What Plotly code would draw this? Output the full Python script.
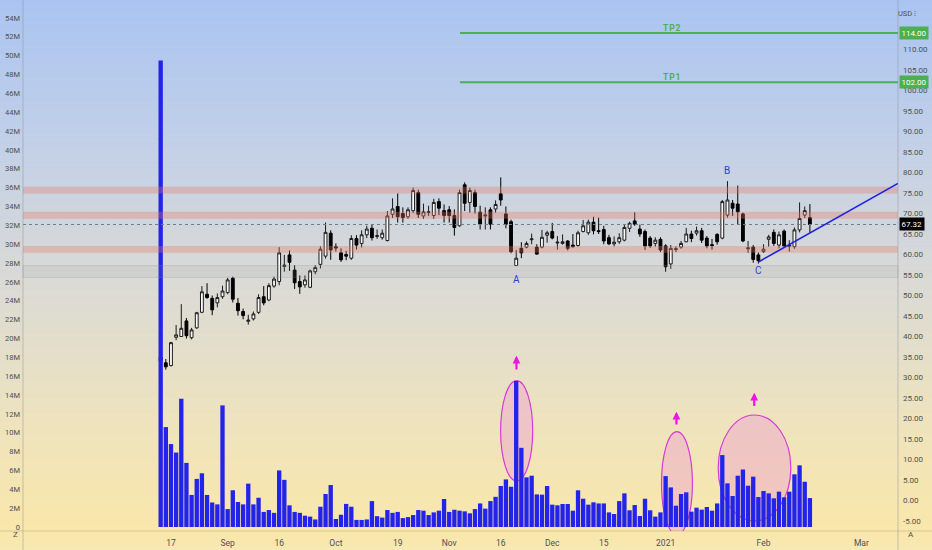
import zlib, struct, base64, datetime as dt
import plotly.graph_objects as go

# ---------------- data ----------------
TRADING_DAYS = {
    "2020-08": [13, 14, 17, 18, 19, 20, 21, 24, 25, 26, 27, 28, 31],
    "2020-09": [1, 2, 3, 4, 8, 9, 10, 11, 14, 15, 16, 17, 18, 21, 22, 23, 24, 25, 28, 29, 30],
    "2020-10": [1, 2, 5, 6, 7, 8, 9, 12, 13, 14, 15, 16, 19, 20, 21, 22, 23, 26, 27, 28, 29, 30],
    "2020-11": [2, 3, 4, 5, 6, 9, 10, 11, 12, 13, 16, 17, 18, 19, 20, 23, 24, 25, 27, 30],
    "2020-12": [1, 2, 3, 4, 7, 8, 9, 10, 11, 14, 15, 16, 17, 18, 21, 22, 23, 24, 28, 29, 30, 31],
    "2021-01": [4, 5, 6, 7, 8, 11, 12, 13, 14, 15, 19, 20, 21, 22, 25, 26, 27, 28, 29],
    "2021-02": [1, 2, 3, 4, 5, 8, 9, 10, 11, 12],
}
HOLIDAYS = ["2020-09-07", "2020-11-26", "2020-12-25", "2021-01-01", "2021-01-18", "2021-02-15"]

OPEN = [35.0, 33.6, 32.9, 39.8, 40.0, 43.8, 39.7, 42.1, 45.9, 50.3, 49.3, 48.2, 49.7, 50.7, 54.2, 48.1, 46.1, 43.7, 44.3, 45.9,
        49.7, 48.9, 52.3, 53.4, 57.1, 59.9, 56.2, 53.4, 52.6, 52.0, 55.8, 57.6, 59.6, 65.2, 61.9, 60.4, 60.0, 59.1, 63.9, 62.7,
        64.8, 66.4, 64.4, 64.1, 63.4, 69.8, 71.7, 70.0, 69.2, 70.7, 75.1, 69.4, 70.2, 69.5, 72.9, 70.7, 70.9, 69.5, 67.0, 77.0,
        72.7, 75.1, 70.3, 69.4, 70.9, 71.1, 74.8, 69.9, 68.0, 57.3, 61.5, 61.8, 63.6, 61.8, 61.8, 64.7, 65.6, 62.8, 62.7, 63.3,
        62.3, 62.2, 65.6, 65.3, 67.9, 65.8, 66.1, 64.1, 62.6, 63.1, 63.5, 66.4, 68.2, 66.2, 65.6, 64.0, 62.7, 63.7, 62.1, 57.7,
        61.2, 61.8, 63.1, 65.0, 65.2, 65.8, 64.0, 62.4, 64.9, 64.0, 69.6, 72.5, 72.3, 69.9, 61.4, 61.8, 59.9, 60.7, 63.7, 65.4,
        62.3, 65.7, 62.0, 61.9, 66.0, 69.6, 69.0]
HIGH = [37.0, 34.5, 38.7, 42.8, 47.9, 44.5, 42.1, 46.0, 52.3, 53.0, 50.0, 50.5, 52.4, 54.3, 54.6, 49.4, 46.8, 45.3, 46.1, 50.3,
        52.3, 53.0, 54.6, 61.8, 59.9, 61.0, 57.4, 54.9, 54.9, 56.3, 57.4, 62.0, 67.8, 65.9, 62.7, 61.5, 60.9, 64.7, 64.7, 65.9,
        67.0, 67.3, 66.1, 66.1, 70.6, 73.7, 74.9, 71.5, 71.5, 76.3, 75.8, 72.4, 71.9, 73.6, 73.7, 72.2, 71.8, 71.0, 75.8, 77.6,
        76.3, 75.8, 71.9, 71.5, 71.5, 73.2, 78.8, 71.7, 68.5, 61.1, 63.0, 63.2, 65.1, 62.5, 66.0, 65.8, 67.7, 64.5, 64.9, 63.5,
        65.0, 65.8, 68.4, 68.5, 69.2, 69.0, 67.0, 64.8, 64.4, 65.2, 67.3, 68.0, 70.3, 67.3, 66.1, 64.5, 64.2, 64.2, 62.5, 62.3,
        62.0, 63.3, 66.5, 65.8, 66.8, 66.5, 64.5, 63.8, 65.2, 73.3, 77.9, 73.3, 76.8, 70.2, 63.3, 62.3, 60.5, 62.5, 64.8, 66.1,
        65.6, 66.1, 63.5, 66.6, 72.7, 71.7, 72.3]
LOW = [33.0, 31.9, 32.7, 39.1, 39.9, 39.5, 39.3, 41.9, 45.7, 49.2, 45.2, 47.1, 49.2, 50.3, 48.3, 45.1, 44.2, 42.9, 43.9, 45.5,
       47.6, 48.6, 51.9, 52.5, 55.8, 56.0, 51.6, 50.4, 51.9, 51.8, 55.2, 56.6, 59.0, 58.7, 60.7, 58.2, 58.6, 58.7, 61.2, 61.7,
       64.0, 63.4, 63.8, 63.6, 63.2, 68.9, 67.8, 67.8, 68.7, 70.1, 68.9, 68.7, 69.4, 68.7, 69.6, 67.8, 67.8, 64.6, 66.8, 70.6,
       70.2, 70.0, 66.1, 66.1, 66.1, 70.2, 71.9, 66.4, 60.3, 57.3, 59.1, 61.5, 62.5, 60.0, 61.5, 62.9, 63.7, 61.2, 62.4, 61.0,
       61.7, 61.9, 65.4, 64.8, 64.9, 65.0, 62.5, 62.3, 62.0, 62.6, 63.2, 65.5, 67.0, 64.3, 61.1, 61.6, 61.9, 60.6, 55.8, 56.5,
       60.6, 61.4, 63.0, 63.0, 64.6, 62.8, 61.5, 61.2, 62.4, 63.7, 69.0, 69.4, 67.4, 63.0, 60.4, 58.0, 57.8, 60.4, 61.9, 62.1,
       61.5, 61.6, 60.7, 61.4, 65.4, 68.9, 65.3]
CLOSE = [34.0, 32.6, 38.5, 40.4, 42.0, 40.2, 41.6, 45.8, 50.9, 49.5, 46.5, 49.5, 51.1, 53.8, 49.1, 46.3, 45.1, 44.0, 45.5, 49.5,
         48.2, 52.4, 54.0, 60.4, 57.4, 58.1, 53.1, 52.1, 53.8, 56.0, 56.8, 61.3, 65.4, 61.1, 61.6, 58.7, 59.6, 63.9, 62.3, 64.8,
         66.2, 64.1, 64.6, 65.2, 69.4, 71.1, 69.2, 69.0, 70.9, 75.6, 69.8, 70.4, 70.4, 72.7, 71.3, 69.5, 69.5, 66.6, 75.1, 72.5,
         75.6, 71.7, 67.4, 69.6, 67.4, 72.2, 73.3, 67.4, 60.7, 59.1, 60.4, 62.7, 63.8, 60.1, 64.2, 65.3, 64.0, 63.0, 63.1, 61.5,
         61.9, 65.3, 67.0, 67.9, 65.8, 65.6, 63.3, 62.6, 63.0, 64.1, 66.6, 67.6, 67.4, 65.0, 62.1, 62.1, 63.5, 61.1, 57.0, 61.5,
         61.4, 62.7, 65.0, 63.9, 65.8, 63.5, 62.1, 62.2, 63.1, 72.9, 73.3, 71.3, 70.4, 63.3, 61.6, 58.8, 58.5, 61.3, 64.3, 62.7,
         64.8, 62.1, 62.2, 66.0, 68.8, 70.7, 67.32]
VOLUME_M = [49.5, 10.6, 8.8, 7.9, 13.6, 6.8, 3.4, 5.1, 5.7, 3.4, 2.6, 2.4, 12.9, 1.9, 3.9, 2.65, 2.4, 4.6, 2.4, 3.1,
            1.6, 1.8, 1.5, 6.0, 5.0, 2.3, 1.6, 1.5, 1.2, 1.1, 0.8, 2.15, 3.5, 4.45, 0.85, 1.3, 2.45, 2.15, 0.75, 0.75,
            0.8, 2.75, 1.15, 1.0, 1.8, 1.5, 1.6, 0.95, 1.05, 1.27, 1.8, 1.73, 1.27, 1.55, 1.73, 2.97, 1.6, 1.83, 1.73, 1.66,
            1.45, 1.9, 2.5, 1.95, 2.75, 3.2, 4.35, 5.05, 4.27, 15.5, 8.4, 5.27, 5.44, 3.46, 3.43, 4.35, 2.37, 2.3, 2.44, 2.44,
            1.73, 3.89, 3.0, 2.37, 2.62, 2.5, 2.5, 1.55, 1.38, 2.75, 3.57, 1.77, 2.33, 1.17, 3.0, 1.77, 1.1, 1.55, 5.4, 4.2,
            2.26, 3.5, 3.68, 1.63, 2.05, 1.84, 2.12, 1.73, 2.5, 7.63, 4.63, 3.29, 5.44, 6.1, 4.38, 5.34, 3.18, 3.82, 3.57, 3.04,
            3.75, 3.15, 3.75, 5.59, 6.54, 4.8, 3.07]

TICK_DATES = ["2020-08-17", "2020-09-01", "2020-09-16", "2020-10-01", "2020-10-19", "2020-11-02",
              "2020-11-16", "2020-12-01", "2020-12-15", "2021-01-04", "2021-02-01", "2021-03-01"]
TICK_LABELS = ["17", "Sep", "16", "Oct", "19", "Nov", "16", "Dec", "15", "2021", "Feb", "Mar"]
VOL_TICKS = list(range(0, 55, 2))
VOL_TICK_LABELS = ["0"] + [f"{v}M" for v in VOL_TICKS[1:]]
PRICE_TICKS = list(range(-5, 116, 5))
PRICE_TICK_LABELS = [f"{v:.2f}" for v in PRICE_TICKS]
ZONES = [(74.9, 76.5), (68.7, 70.4), (60.4, 62.1)]
NEUTRAL_ZONE = (54.4, 57.3)
TP_LEVELS = [("TP2", 114.0), ("TP1", 102.0)]
LAST_PRICE = 67.32

# ---------------- helpers / layout constants ----------------
DATES = [dt.datetime.strptime(f"{m}-{d:02d}", "%Y-%m-%d") + dt.timedelta(hours=12)
         for m, days in TRADING_DAYS.items() for d in days]
X = [d.strftime("%Y-%m-%d %H:%M") for d in DATES]

def idx_x(f):
    i = int(f)
    return (DATES[i] + dt.timedelta(days=f - i)).strftime("%Y-%m-%d %H:%M:%S")

W, H = 932, 550
ML, MR, MT, MB = 23, 34, 0, 19
PW, PH = W - ML - MR, H - MT - MB
P0, PPU = 500.5, 4.1          # price axis: pixel of 0, px per unit
V0, VPU = 527.0, 9.426        # volume axis
def px2price(py): return (P0 - py) / PPU
def pxx(px): return (px - ML) / PW
def pxy(py): return (PH - py) / PH

X_RANGE = ["2020-07-07 18:43", "2021-03-10 14:24"]

def gradient_png(stops, h):
    rows = b""
    for y in range(h):
        for k in range(len(stops) - 1):
            y0, c0 = stops[k]; y1, c1 = stops[k + 1]
            if y0 <= y <= y1:
                t = (y - y0) / (y1 - y0)
                c = [round(c0[j] + (c1[j] - c0[j]) * t) for j in range(3)]
                break
        rows += b"\x00" + bytes(c) * 2
    def chunk(t, d):
        return struct.pack(">I", len(d)) + t + d + struct.pack(">I", zlib.crc32(t + d) & 0xffffffff)
    png = (b"\x89PNG\r\n\x1a\n" + chunk(b"IHDR", struct.pack(">IIBBBBB", 2, h, 8, 2, 0, 0, 0))
           + chunk(b"IDAT", zlib.compress(rows)) + chunk(b"IEND", b""))
    return "data:image/png;base64," + base64.b64encode(png).decode()

BG = gradient_png([(0, (170, 196, 241)), (130, (192, 207, 233)), (280, (218, 218, 214)),
                   (420, (238, 227, 190)), (531, (249, 231, 170)), (549, (248, 232, 178))], H)

FONT = "Roboto"
AXCOL = "#505050"

fig = go.Figure()
fig.add_trace(go.Candlestick(
    x=X, open=OPEN, high=HIGH, low=LOW, close=CLOSE, yaxis="y",
    increasing=dict(line=dict(color="#1a1a1a", width=1), fillcolor="#ffffff"),
    decreasing=dict(line=dict(color="#000000", width=1), fillcolor="#000000"),
    whiskerwidth=0, hoverinfo="skip", showlegend=False))
fig.add_trace(go.Bar(
    x=X, y=VOLUME_M, yaxis="y2", width=0.84 * 86400000,
    marker=dict(color="#2323ea", line=dict(width=0)), hoverinfo="skip", showlegend=False))

shapes = []
for lo, hi in ZONES:
    shapes.append(dict(type="rect", xref="paper", yref="y", x0=0, x1=1, y0=lo, y1=hi,
                       fillcolor="rgba(232,118,96,0.33)", line=dict(width=0), layer="above"))
shapes.append(dict(type="rect", xref="paper", yref="y", x0=0, x1=1, y0=NEUTRAL_ZONE[0], y1=NEUTRAL_ZONE[1],
                   fillcolor="rgba(150,150,150,0.13)", line=dict(width=1, color="rgba(150,150,150,0.25)"), layer="above"))
shapes.append(dict(type="line", xref="paper", yref="y", x0=0, x1=1, y0=LAST_PRICE, y1=LAST_PRICE,
                   line=dict(color="#7a7a7a", width=1, dash="dot"), layer="above"))
for name, lvl in TP_LEVELS:
    shapes.append(dict(type="line", xref="paper", yref="y", x0=pxx(460), x1=1, y0=lvl, y1=lvl,
                       line=dict(color="#4caf50", width=2), layer="above"))
shapes.append(dict(type="line", xref="x", yref="y", x0=idx_x(116.1), y0=px2price(261.7),
                   x1=X_RANGE[1], y1=px2price(183.4), line=dict(color="#1c22e0", width=1.6), layer="above"))
for i0, i1, ytop, ybot in [(65.98, 72.2, 380.7, 481), (97.2, 103.2, 431.7, 535), (108.2, 122.3, 415, 521)]:
    shapes.append(dict(type="circle", xref="x", yref="y", x0=idx_x(i0), x1=idx_x(i1),
                       y0=px2price(ybot), y1=px2price(ytop),
                       fillcolor="rgba(238,160,208,0.45)", line=dict(color="#d63ad8", width=1.2), layer="below"))
shapes += [
    dict(type="line", xref="paper", yref="paper", x0=0, x1=0, y0=pxy(H), y1=1, line=dict(color="rgba(140,140,150,0.45)", width=1)),
    dict(type="line", xref="paper", yref="paper", x0=1, x1=1, y0=pxy(H), y1=1, line=dict(color="rgba(140,140,150,0.45)", width=1)),
    dict(type="line", xref="paper", yref="paper", x0=pxx(0), x1=pxx(W), y0=0, y1=0, line=dict(color="rgba(140,140,150,0.35)", width=1)),
]

ann = []
for name, lvl in TP_LEVELS:
    ann.append(dict(xref="paper", yref="y", x=pxx(682), y=lvl, yanchor="bottom", yshift=-2, showarrow=False,
                    text=f"<b>{' '.join(name)}</b>".replace(" ", "&#8202;"),
                    font=dict(family=FONT, size=8.5, color="#4caf50")))
    ann.append(dict(xref="paper", yref="y", x=1, y=lvl, xanchor="left", xshift=1, showarrow=False,
                    text=f"{lvl:.2f}", bgcolor="#4caf50", borderpad=1.5,
                    font=dict(family=FONT, size=8, color="white")))
ann.append(dict(xref="paper", yref="y", x=1, y=LAST_PRICE, xanchor="left", xshift=1, showarrow=False,
                text=f"{LAST_PRICE:.2f}", bgcolor="#000000", borderpad=1.5, font=dict(family=FONT, size=8, color="white")))
for lab, idx, py in [("A", 69, 279), ("B", 110, 170), ("C", 116.1, 270)]:
    ann.append(dict(xref="x", yref="y", x=idx_x(idx), y=px2price(py), showarrow=False, text=lab,
                    font=dict(family=FONT, size=10, color="#2b3fd6")))
for idx, tip, tail in [(69.05, 355.7, 371), (100.1, 411.7, 426), (115.2, 392.7, 407.5)]:
    ann.append(dict(xref="x", yref="y", x=idx_x(idx), y=px2price(tip), ax=0, ay=tail - tip, text="",
                    showarrow=True, arrowhead=2, arrowsize=0.7, arrowwidth=2.2, arrowcolor="#f013e6"))
ann.append(dict(xref="paper", yref="paper", x=pxx(918), y=pxy(7), showarrow=False, text="USD ⁝",
                font=dict(family=FONT, size=7.5, color=AXCOL)))
ann.append(dict(xref="paper", yref="paper", x=pxx(11), y=pxy(541), showarrow=False, text="Z",
                font=dict(family=FONT, size=8, color=AXCOL)))
ann.append(dict(xref="paper", yref="paper", x=pxx(916), y=pxy(541), showarrow=False, text="A",
                font=dict(family=FONT, size=8, color=AXCOL)))

fig.update_layout(
    width=W, height=H, margin=dict(l=ML, r=MR, t=MT, b=MB),
    paper_bgcolor="#f8e8b4", plot_bgcolor="rgba(0,0,0,0)",
    images=[dict(source=BG, xref="paper", yref="paper", x=pxx(0), y=pxy(0), sizex=W / PW, sizey=H / PH,
                 xanchor="left", yanchor="top", sizing="stretch", layer="below")],
    showlegend=False, hovermode=False, boxgap=0.22,
    font=dict(family=FONT, size=8, color=AXCOL),
    xaxis=dict(type="date", range=X_RANGE, rangeslider=dict(visible=False),
               rangebreaks=[dict(bounds=["sat", "mon"]), dict(values=HOLIDAYS)],
               tickvals=[d + " 12:00" for d in TICK_DATES], ticktext=TICK_LABELS,
               showgrid=False, zeroline=False, showline=False, ticks="", ticklabelstandoff=5,
               tickfont=dict(size=8.5, color=AXCOL)),
    yaxis=dict(side="right", range=[px2price(PH), px2price(0)], tickvals=PRICE_TICKS, ticktext=PRICE_TICK_LABELS,
               showgrid=False, zeroline=False, showline=False, ticks="", ticklabelstandoff=4,
               tickfont=dict(size=8, color=AXCOL)),
    yaxis2=dict(overlaying="y", side="left", range=[(V0 - PH) / VPU, V0 / VPU],
                tickvals=VOL_TICKS, ticktext=VOL_TICK_LABELS, showgrid=False, zeroline=False,
                showline=False, ticks="", ticklabelstandoff=2, tickfont=dict(size=7.5, color=AXCOL)),
    shapes=shapes, annotations=ann,
)
fig.write_html("out.html", config={"displayModeBar": False},
               post_script="document.body.style.margin='0';document.body.style.overflow='hidden';")
